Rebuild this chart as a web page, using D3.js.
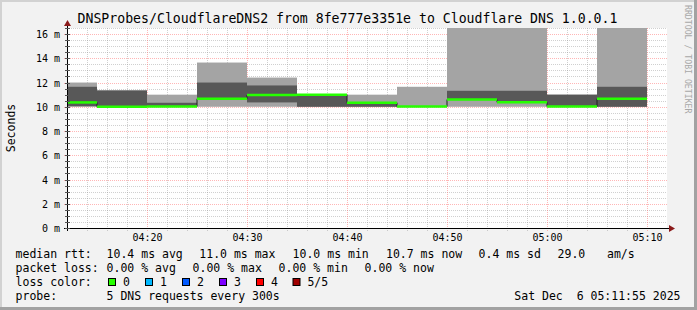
<!DOCTYPE html>
<html>
<head>
<meta charset="utf-8">
<title>DNSProbes/CloudflareDNS2</title>
<style>
  body { margin: 0; background: #fff; }
  svg text { font-family: "DejaVu Sans Mono", monospace; fill: #000; }
  .axis path { display: none; }
  .axis line { display: none; }
</style>
</head>
<body>
<svg width="697" height="310"></svg>
<script src="https://d3js.org/d3.v7.min.js"></script>
<script>

// 5 minute slots (end time of each slot), 5 pings per slot, sorted
var slotEnds = ["04:15","04:20","04:25","04:30","04:35","04:40","04:45","04:50","04:55","05:00","05:05","05:10"];
var pingMin  = [10.00, 10.00, 10.00, 10.00, 10.00, 10.00, 10.00, 10.00, 10.00, 10.00, 10.00, 10.00];
var pingLow  = [10.05, 10.00, 10.00, 10.60, 10.36, 10.00, 10.00, 10.00, 10.55, 10.35, 10.00, 10.00];
var median   = [10.36, 10.00, 10.02, 10.66, 10.97, 11.00, 10.34, 10.02, 10.60, 10.37, 10.02, 10.66];
var pingHigh = [11.65, 11.35, 10.33, 12.00, 11.76, 11.00, 10.35, 10.02, 11.32, 11.32, 11.00, 11.65];
var pingMax  = [12.00, 11.35, 11.00, 13.65, 12.41, 11.02, 11.00, 11.65, 18.00, 18.00, 11.00, 18.00];

var title = "DNSProbes/CloudflareDNS2 from 8fe777e3351e to Cloudflare DNS 1.0.0.1";
var rttLegend  = ["median rtt:", "10.4 ms avg", "11.0 ms max", "10.0 ms min", "10.7 ms now", "0.4 ms sd", "29.0", "am/s"];
var lossLegend = ["packet loss:", "0.00 % avg", "0.00 % max", "0.00 % min", "0.00 % now"];
var lossLabels = ["0", "1", "2", "3", "4", "5/5"];
var lossColors = ["#26ff00", "#00b8ff", "#0059ff", "#7e00ff", "#ff0000", "#a10000"];
var probeText  = ["probe:", "5 DNS requests every 300s"];
var stamp = "Sat Dec  6 05:11:55 2025";

var svg = d3.select("svg"),
    W = 697, H = 310,
    pL = 67, pR = 667, pT = 28, pB = 228;

var parseTime = d3.timeParse("%H:%M");

var x = d3.scaleTime()
    .domain([parseTime("04:12"), parseTime("05:12")])
    .range([pL, pR]);
var y = d3.scaleLinear().domain([0, 16.5]).range([pB, pT]);

// frame
svg.append("rect").attr("width", W).attr("height", H).attr("fill", "#f2f2f2");
svg.append("rect").attr("x", 0).attr("y", 0).attr("width", W).attr("height", 2).attr("fill", "#d2d2d2");
svg.append("rect").attr("x", 0).attr("y", 0).attr("width", 2).attr("height", H).attr("fill", "#d2d2d2");
svg.append("rect").attr("x", 0).attr("y", H - 3).attr("width", W).attr("height", 3).attr("fill", "#a2a2a2");
svg.append("rect").attr("x", W - 3).attr("y", 0).attr("width", 3).attr("height", H).attr("fill", "#a2a2a2");

svg.append("rect")
    .attr("x", pL).attr("y", pT)
    .attr("width", pR - pL).attr("height", pB - pT)
    .attr("fill", "#ffffff");

svg.append("clipPath").attr("id", "plot")
  .append("rect")
    .attr("x", pL).attr("y", pT)
    .attr("width", pR - pL).attr("height", pB - pT);

var slots = slotEnds.map(function(t, i) {
  var end = parseTime(t);
  return {
    start: d3.max([d3.timeMinute.offset(end, -5), x.domain()[0]]),
    end: end,
    p0: pingMin[i], p1: pingLow[i], p2: median[i], p3: pingHigh[i], p4: pingMax[i]
  };
});

// grid (under the smoke)
var minorY = d3.range(0, 16.51, 0.5).filter(function(v) { return v % 2 !== 0; });
var majorY = d3.range(0, 16.51, 2);
var minorX = d3.timeMinute.every(2).range(x.domain()[0], x.domain()[1]).filter(function(t) { return t.getMinutes() % 10 !== 0; });
var majorX = d3.timeMinute.every(10).range(x.domain()[0], x.domain()[1]);

svg.append("g").selectAll("line").data(minorY).enter().append("line")
    .attr("x1", pL - 2).attr("x2", pR)
    .attr("y1", function(d) { return Math.round(y(d)) + 0.5; })
    .attr("y2", function(d) { return Math.round(y(d)) + 0.5; })
    .attr("stroke", "rgba(150,150,150,0.45)").attr("stroke-dasharray", "1,1");

svg.append("g").selectAll("line").data(minorX).enter().append("line")
    .attr("y1", pT).attr("y2", pB + 3)
    .attr("x1", function(d) { return Math.round(x(d)) + 0.5; })
    .attr("x2", function(d) { return Math.round(x(d)) + 0.5; })
    .attr("stroke", "rgba(150,150,150,0.45)").attr("stroke-dasharray", "1,1");

svg.append("g").selectAll("line").data(majorY.slice(1)).enter().append("line")
    .attr("x1", pL - 3).attr("x2", pR)
    .attr("y1", function(d) { return Math.round(y(d)) + 0.5; })
    .attr("y2", function(d) { return Math.round(y(d)) + 0.5; })
    .attr("stroke", "rgba(255,110,110,0.5)").attr("stroke-dasharray", "1,1");

svg.append("g").selectAll("line").data(majorX).enter().append("line")
    .attr("y1", pT).attr("y2", pB + 4)
    .attr("x1", function(d) { return Math.round(x(d)) + 0.5; })
    .attr("x2", function(d) { return Math.round(x(d)) + 0.5; })
    .attr("stroke", "rgba(255,110,110,0.5)").attr("stroke-dasharray", "1,1");

var g = svg.append("g").attr("clip-path", "url(#plot)");

// smoke
g.selectAll(".outer").data(slots).enter().append("rect")
    .attr("x", function(d) { return x(d.start); })
    .attr("width", function(d) { return x(d.end) - x(d.start); })
    .attr("y", function(d) { return y(d.p4); })
    .attr("height", function(d) { return y(d.p0) - y(d.p4); })
    .attr("fill", "#a4a4a4");

g.selectAll(".inner").data(slots).enter().append("rect")
    .attr("x", function(d) { return x(d.start); })
    .attr("width", function(d) { return x(d.end) - x(d.start); })
    .attr("y", function(d) { return y(d.p3); })
    .attr("height", function(d) { return y(d.p1) - y(d.p3); })
    .attr("fill", "#585858");

// median: thin dark step line under the coloured loss line
var pts = [];
slots.forEach(function(d) { pts.push([d.start, d.p2]); pts.push([d.end, d.p2]); });
g.append("path")
    .attr("d", d3.line().x(function(d) { return x(d[0]); }).y(function(d) { return y(d[1]); })(pts))
    .attr("fill", "none").attr("stroke", "#202020").attr("stroke-width", 1);

g.selectAll(".med").data(slots).enter().append("line")
    .attr("x1", function(d) { return x(d.start); })
    .attr("x2", function(d) { return x(d.end); })
    .attr("y1", function(d) { return y(d.p2); })
    .attr("y2", function(d) { return y(d.p2); })
    .attr("stroke", lossColors[0]).attr("stroke-width", 2.5);

// axes
svg.append("line").attr("x1", pL - 3).attr("x2", pR + 4)
    .attr("y1", pB + 0.5).attr("y2", pB + 0.5).attr("stroke", "#000");
svg.append("line").attr("x1", pL + 0.5).attr("x2", pL + 0.5)
    .attr("y1", pB + 3).attr("y2", pT - 4).attr("stroke", "#000");
svg.append("path").attr("d", "M" + (pR + 2) + "," + (pB - 3) + "L" + (pR + 8) + "," + (pB + 0.5) + "L" + (pR + 2) + "," + (pB + 4) + "Z")
    .attr("fill", "#8b1a1a");
svg.append("path").attr("d", "M" + (pL - 3) + "," + (pT - 2) + "L" + (pL + 0.5) + "," + (pT - 8) + "L" + (pL + 4) + "," + (pT - 2) + "Z")
    .attr("fill", "#8b1a1a");

svg.append("g").selectAll("line").data(d3.range(0, 16.51, 0.5)).enter().append("line")
    .attr("x1", pL - 2).attr("x2", pL + 3)
    .attr("y1", function(d) { return Math.round(y(d)) + 0.5; })
    .attr("y2", function(d) { return Math.round(y(d)) + 0.5; })
    .attr("stroke", "#555");

var yAxis = svg.append("g").attr("class", "axis")
    .attr("transform", "translate(" + (pL - 7) + ",0)")
    .call(d3.axisLeft(y).tickValues(majorY).tickSize(0).tickPadding(0)
      .tickFormat(function(d) { return d + " m"; }));
yAxis.selectAll("text").style("font-size", "10px").style("font-family", "DejaVu Sans Mono").attr("dy", "0.36em");

var xAxis = svg.append("g").attr("class", "axis")
    .attr("transform", "translate(0," + (pB + 6) + ")")
    .call(d3.axisBottom(x).tickValues(majorX.filter(function(t) { return t.getMinutes() !== 10 || t.getHours() !== 4; }))
      .tickSize(0).tickPadding(0).tickFormat(d3.timeFormat("%H:%M")));
xAxis.selectAll("text").style("font-size", "10px").style("font-family", "DejaVu Sans Mono").attr("dy", "0.71em");

// titles
svg.append("text").attr("x", 347.5).attr("y", 23).attr("text-anchor", "middle")
    .style("font-size", "13.2px").text(title);

svg.append("text").attr("transform", "translate(15,128) rotate(-90)")
    .attr("text-anchor", "middle").style("font-size", "11.5px").text("Seconds");

svg.append("text").attr("transform", "translate(684.5,5) rotate(90)")
    .style("font-size", "8.2px").style("fill", "#a8a8a8").text("RRDTOOL / TOBI OETIKER");

// legend
var legendFont = "11.5px";
var rttX = [15.6, 106.6, 199.3, 292.6, 386, 478.6, 557.6, 607];
rttLegend.forEach(function(s, i) {
  svg.append("text").attr("x", rttX[i]).attr("y", 258).style("font-size", legendFont).text(s);
});
var lossX = [15.6, 106.6, 192.6, 278.6, 364.6];
lossLegend.forEach(function(s, i) {
  svg.append("text").attr("x", lossX[i]).attr("y", 272).style("font-size", legendFont).text(s);
});
svg.append("text").attr("x", 15.6).attr("y", 286).style("font-size", legendFont).text("loss color:");
var boxX = [108.5, 145.5, 182.5, 219.5, 256.5, 293];
lossLabels.forEach(function(s, i) {
  svg.append("rect").attr("x", boxX[i]).attr("y", 278.5).attr("width", 7).attr("height", 7)
      .attr("fill", lossColors[i]).attr("stroke", "#000").attr("stroke-width", 1);
  svg.append("text").attr("x", boxX[i] + 14.4).attr("y", 286).style("font-size", legendFont).text(s);
});
svg.append("text").attr("x", 15.6).attr("y", 300).style("font-size", legendFont).text(probeText[0]);
svg.append("text").attr("x", 106.6).attr("y", 300).style("font-size", legendFont).text(probeText[1]);
svg.append("text").attr("x", 680.5).attr("y", 300).attr("text-anchor", "end")
    .style("font-size", legendFont).style("white-space", "pre").text(stamp);

</script>
</body>
</html>
